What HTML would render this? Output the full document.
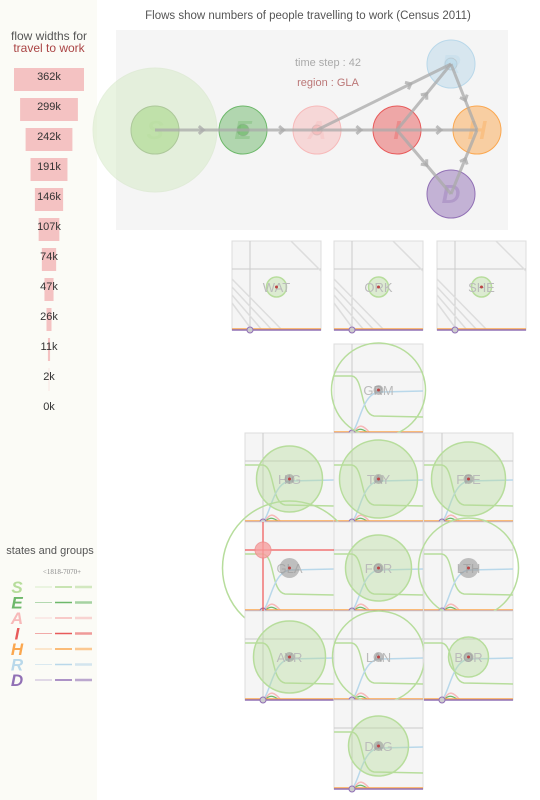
<!DOCTYPE html>
<html><head><meta charset="utf-8">
<style>
body{margin:0;width:540px;height:800px;background:#fff;font-family:"Liberation Sans",sans-serif;overflow:hidden;position:relative}
#side{position:absolute;left:0;top:0;width:97px;height:800px;background:#fbfbf6}
</style></head><body>
<div id="side"></div>
<svg id="svg" width="540" height="800" style="position:absolute;left:0;top:0">
<text x="308" y="19" font-size="11.5" fill="#555" text-anchor="middle">Flows show numbers of people travelling to work (Census 2011)</text>
<text x="49" y="40" font-size="12" fill="#555" text-anchor="middle">flow widths for</text>
<text x="49" y="52" font-size="12" fill="#a44" text-anchor="middle">travel to work</text>
<text x="50" y="554" font-size="11" fill="#555" text-anchor="middle">states and groups</text>
<text x="62" y="574" font-size="7" fill="#888" text-anchor="middle" font-family="Liberation Serif">&lt;1818-7070+</text>
<rect x="116" y="30" width="392" height="200" fill="#f5f5f5"/>
<text x="328" y="66" font-size="11" fill="#aaa" text-anchor="middle">time step : 42</text>
<text x="328" y="86" font-size="11" fill="#b77" text-anchor="middle">region : GLA</text>
<g id="flows"></g><g id="states"></g><g id="panels"></g><g id="legend"></g>
</svg>
<script>
const NS='http://www.w3.org/2000/svg';
function mk(p,t,a){const e=document.createElementNS(NS,t);for(const k in a)e.setAttribute(k,a[k]);p.appendChild(e);return e;}
const flowLabels=['362k','299k','242k','191k','146k','107k','74k','47k','26k','11k','2k','0k'];
const flowValues=[362,299,242,191,146,107,74,47,26,11,2,0];
const lg=document.getElementById('legend');
flowValues.forEach((v,i)=>{
  const w=v/362*70, y=68+i*30;
  const r=mk(lg,'rect',{x:49-w/2,y:y,width:w,height:23,fill:'#f4c2c2'});
  
  
  const t=mk(lg,'text',{x:49,y:y+12,'font-size':11,fill:'#333','text-anchor':'middle'});
  t.textContent=flowLabels[i];
  
  
});
const stateNames=['S','E','A','I','H','R','D'];
const stateColors=['#b7dd9c','#6db86a','#f7b9b9','#e85a5a','#fba74f','#b9d8ea','#9170b5'];
stateNames.forEach((s,i)=>{
  const y=587+i*15.5;
  const t=mk(lg,'text',{x:17,y:y+6,'font-size':17,'font-weight':'bold','font-style':'italic',fill:stateColors[i],'text-anchor':'middle'});
  t.textContent=s;
  
  
  [0,1,2].forEach(j=>{
    const l=mk(lg,'line',{x1:35+j*20,x2:52+j*20,y1:y,y2:y,stroke:stateColors[i],'stroke-width':j+0.6,opacity:j==2?0.6:1});
    
    
  });
});
const st=document.getElementById('states');
const nodes={S:[155,130,62,24],E:[243,130,24,6],A:[317,130,24,5],I:[397,130,24,0],H:[477,130,24,0],R:[451,64,24,6],D:[451,194,24,0]};
const nodeOrder=['S','E','A','I','H','R','D'];
nodeOrder.forEach((k,i)=>{
  const n=nodes[k];
  if(k==='S'){const c=mk(st,'circle',{cx:n[0],cy:n[1],r:n[2],fill:'#d5ebc4',opacity:0.5,stroke:'#cde3bd'});}
  const c=mk(st,'circle',{cx:n[0],cy:n[1],r:24,fill:stateColors[i],'fill-opacity':k==='S'?0.3:0.5,stroke:stateColors[i]});
  
  
  if(n[3]){const ci=mk(st,'circle',{cx:n[0],cy:n[1],r:n[3],fill:stateColors[i],'fill-opacity':0.7,stroke:'#999','stroke-opacity':0.3});}
  const t=mk(st,'text',{x:n[0],y:n[1]+9,'font-size':26,'font-weight':'bold','font-style':'italic',fill:stateColors[i],opacity:0.35,'text-anchor':'middle'});t.textContent=k;
});
const edges=[['S','E'],['E','A'],['A','I'],['I','H'],['A','R'],['I','R'],['I','D'],['R','H'],['D','H']];
edges.forEach(e=>{
  const a=nodes[e[0]],b=nodes[e[1]];
  const l=mk(st,'line',{x1:a[0],y1:a[1],x2:b[0],y2:b[1],stroke:'#aaa','stroke-width':3,opacity:0.75});
  
  
  const f=e[0]==='A'&&e[1]==='R'?0.7:0.55;
  const mx=a[0]+(b[0]-a[0])*f,my=a[1]+(b[1]-a[1])*f,ang=Math.atan2(b[1]-a[1],b[0]-a[0]);
  const p=mk(st,'polyline',{points:`${mx-6*Math.cos(ang-0.7)},${my-6*Math.sin(ang-0.7)} ${mx},${my} ${mx-6*Math.cos(ang+0.7)},${my-6*Math.sin(ang+0.7)}`,fill:'none',stroke:'#aaa','stroke-width':3,opacity:0.75});
  
  
});
const regionNames=['WAT','ORK','SHE','GRM','HIG','TAY','FFE','GLA','FOR','LTH','AYR','LAN','BOR','DAG'];
const regionX=[232,334,437,334,245,334,424,245,334,424,245,334,424,334];
const regionY=[241,241,241,344,433,433,433,522,522,522,611,611,611,700];
const regionRadius=[10,10,10,47,33,39,37,67,33,50,36,46,20,30];
const regionFilled=[1,1,1,0,1,1,1,0,1,0,1,0,1,1];
const pg=document.getElementById('panels');
const W=89;
regionNames.forEach((nm,i)=>{
  const x=regionX[i],y=regionY[i];
  const g=mk(pg,'g',{});
  
  
  mk(g,'rect',{x:x,y:y,width:W,height:W,fill:'#f5f5f5',stroke:'#ddd'});
  mk(g,'line',{x1:x+18,x2:x+18,y1:y,y2:y+W,stroke:'#ccc'});
  mk(g,'line',{x1:x,x2:x+W,y1:y+28,y2:y+28,stroke:'#ccc'});
  const big=regionRadius[i]>15;
  if(big){
    mk(g,'path',{d:`M${x} ${y+32} L${x+18} ${y+32} C${x+30} ${y+34} ${x+26} ${y+70} ${x+40} ${y+72} L${x+W} ${y+73}`,fill:'none',stroke:'#b7dd9c','stroke-width':1.5});
    mk(g,'path',{d:`M${x+18} ${y+W} C${x+26} ${y+80} ${x+28} ${y+50} ${x+45} ${y+48} L${x+W} ${y+47}`,fill:'none',stroke:'#b9d8ea','stroke-width':1.5});
    mk(g,'path',{d:`M${x+20} ${y+W} C${x+25} ${y+78} ${x+30} ${y+82} ${x+36} ${y+W}`,fill:'none',stroke:'#f7b9b9','stroke-width':1.5});
    mk(g,'path',{d:`M${x+20} ${y+W} C${x+24} ${y+84} ${x+28} ${y+84} ${x+34} ${y+W}`,fill:'none',stroke:'#6db86a','stroke-width':1.2});
  } else {
    for(let k=0;k<4;k++) mk(g,'line',{x1:x,y1:y+38+k*8,x2:x+50-k*10,y2:y+W,stroke:'#ddd','stroke-width':1.5});
    mk(g,'line',{x1:x+W-30,y1:y,x2:x+W,y2:y+30,stroke:'#ddd','stroke-width':1.5});
  }
  mk(g,'line',{x1:x,x2:x+W,y1:y+W-1,y2:y+W-1,stroke:'#fba74f','stroke-width':1.5});
  mk(g,'line',{x1:x,x2:x+W,y1:y+W,y2:y+W,stroke:'#9170b5','stroke-width':1.5});
  mk(g,'circle',{cx:x+18,cy:y+W,r:3,fill:'#ccc',stroke:'#9170b5'});
  const cx=x+W/2,cy=y+46;
  mk(g,'circle',{cx:cx,cy:cy,r:regionRadius[i],fill:regionFilled[i]?'#b7dd9c':'none','fill-opacity':0.4,stroke:'#b7dd9c','stroke-width':1.5});
  const t=mk(g,'text',{x:cx,y:cy+5,'font-size':13,fill:'#bbb','text-anchor':'middle'});t.textContent=nm;
  if(big)mk(g,'circle',{cx:cx,cy:cy,r:nm==='GLA'||nm==='LTH'?10:5,fill:'#999',opacity:0.6});
  mk(g,'circle',{cx:cx,cy:cy,r:1.5,fill:'#b44'});
});
const gx=regionX[7],gy=regionY[7];
mk(pg,'line',{x1:gx+18,x2:gx+18,y1:gy,y2:gy+W,stroke:'#e33'});
mk(pg,'line',{x1:gx,x2:gx+W,y1:gy+28,y2:gy+28,stroke:'#e33'});
const hc=mk(pg,'circle',{cx:gx+18,cy:gy+28,r:8,fill:'#f7a0a0',stroke:'#e88',opacity:0.8});


</script>
</body></html>
